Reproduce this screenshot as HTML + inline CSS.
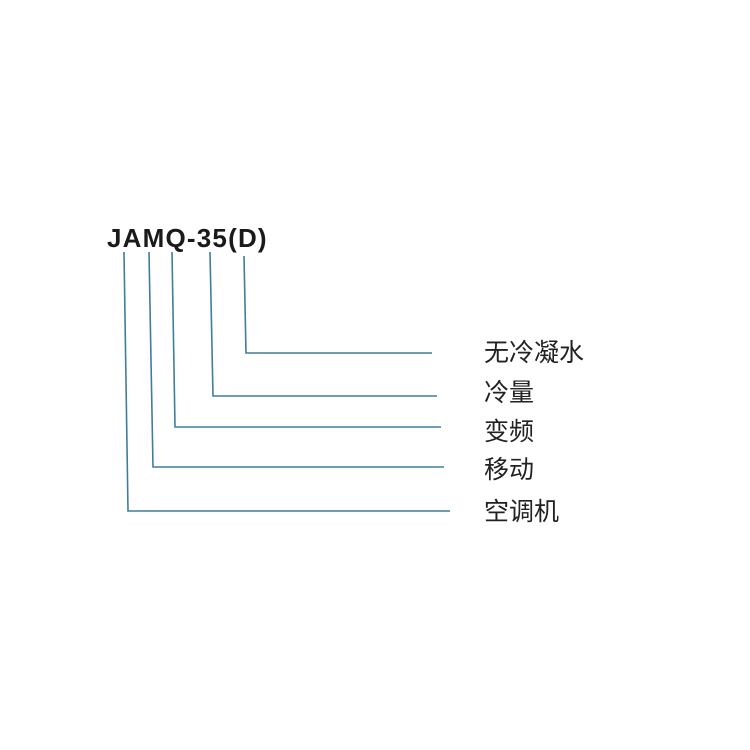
<!DOCTYPE html>
<html><head><meta charset="utf-8"><style>
html,body{margin:0;padding:0;background:#fff;}
.t{position:absolute;font-family:"Liberation Sans","Noto Sans CJK SC",sans-serif;color:#222;}
.l{font-size:25px;line-height:25px;left:484px;}
</style></head><body>
<div style="position:relative;width:750px;height:750px;overflow:hidden">
<svg width="750" height="750" style="position:absolute;left:0;top:0">
<g stroke="#3f7d9c" stroke-width="1.6" fill="none">
<polyline points="124,252 128,511 450,511"/>
<polyline points="149,252 153,467 444,467"/>
<polyline points="172,252 175,427 441,427"/>
<polyline points="210,252 213,396 437,396"/>
<polyline points="244,256 246,353 432,353"/>
</g>
</svg>
<div class="t" style="left:107px;top:223px;font-size:26px;font-weight:bold;letter-spacing:1.2px;color:#1a1a1a;">JAMQ-35(D)</div>
<div class="t l" style="top:341px">无冷凝水</div>
<div class="t l" style="top:381px">冷量</div>
<div class="t l" style="top:420px">变频</div>
<div class="t l" style="top:458px">移动</div>
<div class="t l" style="top:500px">空调机</div>
</div>
</body></html>
